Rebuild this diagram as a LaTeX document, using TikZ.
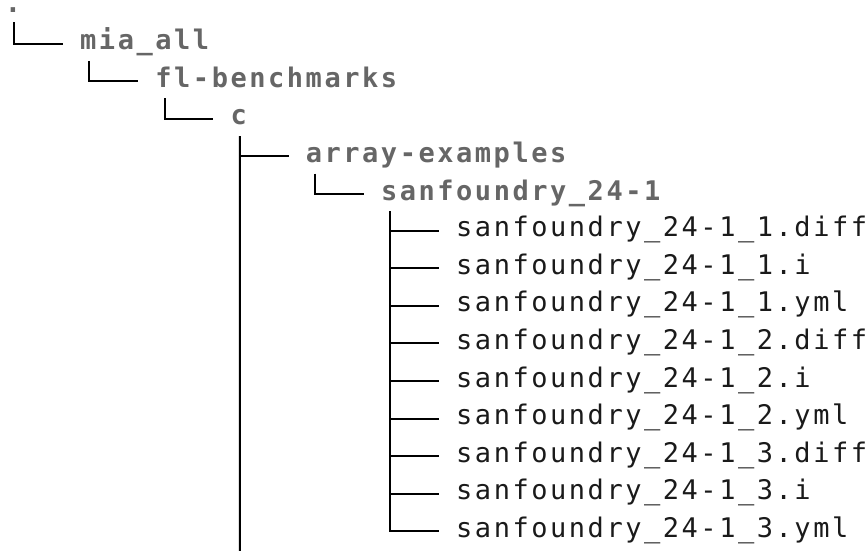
\documentclass[tikz,border=0pt]{standalone}
\usepackage{fontspec}
\newfontfamily\treefont[LetterSpace=9.4]{DejaVu Sans Mono}
\definecolor{dirgray}{HTML}{666666}
\definecolor{fileink}{HTML}{1A1A1A}
\tikzset{
  entry/.style={anchor=base west, inner sep=0pt, text height=17pt, text depth=5pt},
  dir/.style={entry, text=dirgray, font=\treefont\bfseries\fontsize{27}{27}\selectfont},
  file/.style={entry, text=fileink, font=\treefont\fontsize{27}{27}\selectfont},
  branch/.style={draw=black, line width=2pt},
}
% one column of the listing is 18.8 units wide, one row 37.6 units high
\newcommand{\branchto}[2]{\draw[branch] ([shift={(9.4pt,-6pt)}]#1.south west) |- ([xshift=-17pt]#2.west);}
\begin{document}
\begin{tikzpicture}[x=1pt,y=1pt]
  \useasboundingbox (0,0) rectangle (868,-551);
  % directories
  \node[dir, text height=6pt, text depth=1pt] (root) at (4.8,-13) {.};
  \node[dir] (mia)  at (80.0,-49.6) {mia\_all};
  \node[dir] (fl)   at (155.2,-87.2) {fl-benchmarks};
  \node[dir] (c)    at (230.4,-124.8) {c};
  \node[dir] (arr)  at (305.6,-162.4) {array-examples};
  \node[dir] (sf)   at (380.8,-200.0) {sanfoundry\_24-1};
  % files
  \node[file] (f1) at (456.0,-236.6) {sanfoundry\_24-1\_1.diff};
  \node[file] (f2) at (456.0,-274.2) {sanfoundry\_24-1\_1.i};
  \node[file] (f3) at (456.0,-311.8) {sanfoundry\_24-1\_1.yml};
  \node[file] (f4) at (456.0,-349.4) {sanfoundry\_24-1\_2.diff};
  \node[file] (f5) at (456.0,-387.0) {sanfoundry\_24-1\_2.i};
  \node[file] (f6) at (456.0,-424.6) {sanfoundry\_24-1\_2.yml};
  \node[file] (f7) at (456.0,-462.2) {sanfoundry\_24-1\_3.diff};
  \node[file] (f8) at (456.0,-499.8) {sanfoundry\_24-1\_3.i};
  \node[file] (f9) at (456.0,-537.4) {sanfoundry\_24-1\_3.yml};
  % tree branches (the first one starts just under the dot)
  \draw[branch] ([shift={(9.4pt,-8pt)}]root.south west) |- ([xshift=-17pt]mia.west);
  \branchto{mia}{fl}
  \branchto{fl}{c}
  \branchto{c}{arr}
  \branchto{arr}{sf}
  \foreach \i in {1,...,9} { \branchto{sf}{f\i} }
  % the listing of c continues below the visible part
  \coordinate (cend) at (239.8,-551);
  \draw[branch] ([shift={(9.4pt,-6pt)}]c.south west) -- (cend);
\end{tikzpicture}
\end{document}
